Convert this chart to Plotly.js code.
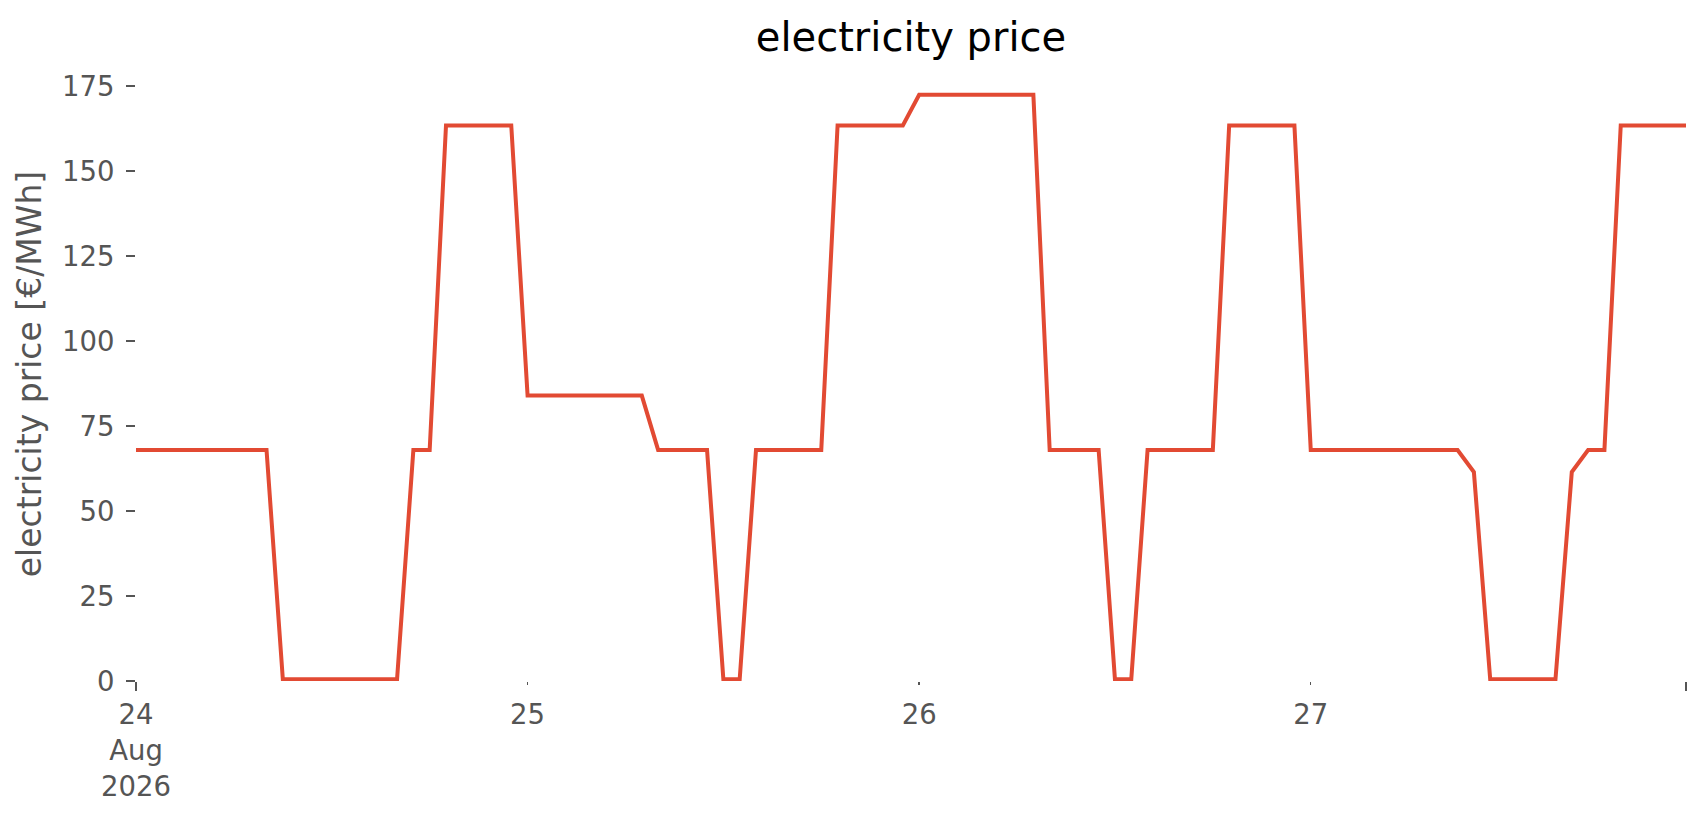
<!DOCTYPE html>
<html>
<head>
<meta charset="utf-8">
<script src="https://cdn.plot.ly/plotly-3.0.1.min.js"></script>
<style>html,body{margin:0;padding:0;background:#fff;}#chart{width:1706px;height:815px;}</style>
</head>
<body>
<div id="chart"></div>
<script>
// hourly electricity price, starting 24 Aug 2026 00:00
const startTime = "2026-08-24T00:00:00";
const priceValues = [
  68, 68, 68, 68, 68, 68, 68, 68, 68,
  0.5, 0.5, 0.5, 0.5, 0.5, 0.5, 0.5, 0.5,
  68, 68,
  163.5, 163.5, 163.5, 163.5, 163.5,
  84, 84, 84, 84, 84, 84, 84, 84,
  68, 68, 68, 68,
  0.5, 0.5,
  68, 68, 68, 68, 68,
  163.5, 163.5, 163.5, 163.5, 163.5,
  172.5, 172.5, 172.5, 172.5, 172.5, 172.5, 172.5, 172.5,
  68, 68, 68, 68,
  0.5, 0.5,
  68, 68, 68, 68, 68,
  163.5, 163.5, 163.5, 163.5, 163.5,
  68, 68, 68, 68, 68, 68, 68, 68, 68, 68,
  61.5,
  0.5, 0.5, 0.5, 0.5, 0.5,
  61.5,
  68, 68,
  163.5, 163.5, 163.5, 163.5, 163.5
];
const dayTicks = ["2026-08-24", "2026-08-25", "2026-08-26", "2026-08-27"];
const dayTickLabels = ["24<br>Aug<br>2026", "25", "26", "27"];
const yTickValues = [0, 25, 50, 75, 100, 125, 150, 175];

function pad(n){ return (n < 10 ? "0" : "") + n; }
const t0 = new Date(startTime + "Z").getTime();
const times = priceValues.map((_, i) => {
  const d = new Date(t0 + i * 3600000);
  return d.getUTCFullYear() + "-" + pad(d.getUTCMonth() + 1) + "-" + pad(d.getUTCDate()) +
         " " + pad(d.getUTCHours()) + ":00";
});
const xRange = [times[0], times[times.length - 1]];

const font = "DejaVu Sans, Liberation Sans, sans-serif";
const grey = "#555555";

const trace = {
  x: times,
  y: priceValues,
  type: "scatter",
  mode: "lines",
  line: {color: "#E24A33", width: 4},
  hoverinfo: "x+y",
  showlegend: false
};
// same series on the overlaying axis that carries the end ticks (invisible)
const traceEnds = {
  x: times,
  y: priceValues,
  xaxis: "x2",
  type: "scatter",
  mode: "lines",
  line: {color: "rgba(0,0,0,0)", width: 0},
  hoverinfo: "skip",
  showlegend: false
};

const layout = {
  width: 1706,
  height: 815,
  paper_bgcolor: "#ffffff",
  plot_bgcolor: "#ffffff",
  margin: {l: 136, r: 20, t: 67, b: 134},
  title: {
    text: "electricity price",
    font: {family: font, size: 40, color: "#000000"},
    x: 0.5, xref: "paper", xanchor: "center",
    y: 1 - 37 / 815, yref: "container", yanchor: "middle"
  },
  xaxis: {
    type: "date",
    range: xRange,
    tickmode: "array",
    tickvals: dayTicks,
    ticktext: dayTickLabels,
    ticks: "outside",
    ticklen: 3,
    tickwidth: 1.5,
    tickcolor: grey,
    ticklabelstandoff: 6,
    tickfont: {family: font, size: 27.5, color: grey},
    showgrid: false,
    zeroline: false,
    showline: false
  },
  xaxis2: {
    type: "date",
    overlaying: "x",
    anchor: "y",
    side: "bottom",
    range: xRange,
    tickmode: "array",
    tickvals: xRange,
    ticktext: ["", ""],
    ticks: "outside",
    ticklen: 9,
    tickwidth: 2,
    tickcolor: grey,
    showgrid: false,
    zeroline: false,
    showline: false
  },
  yaxis: {
    range: [0, 180.7],
    tickmode: "array",
    tickvals: yTickValues,
    ticktext: yTickValues.map(String),
    ticks: "outside",
    ticklen: 9,
    tickwidth: 2,
    tickcolor: grey,
    ticklabelstandoff: 6,
    tickfont: {family: font, size: 27.5, color: grey},
    showgrid: false,
    zeroline: false,
    showline: false,
    title: {
      text: "electricity price [€/MWh]",
      font: {family: font, size: 33, color: grey},
      standoff: 10
    }
  }
};

Plotly.newPlot("chart", [trace, traceEnds], layout, {displayModeBar: false, staticPlot: true});
</script>
</body>
</html>
